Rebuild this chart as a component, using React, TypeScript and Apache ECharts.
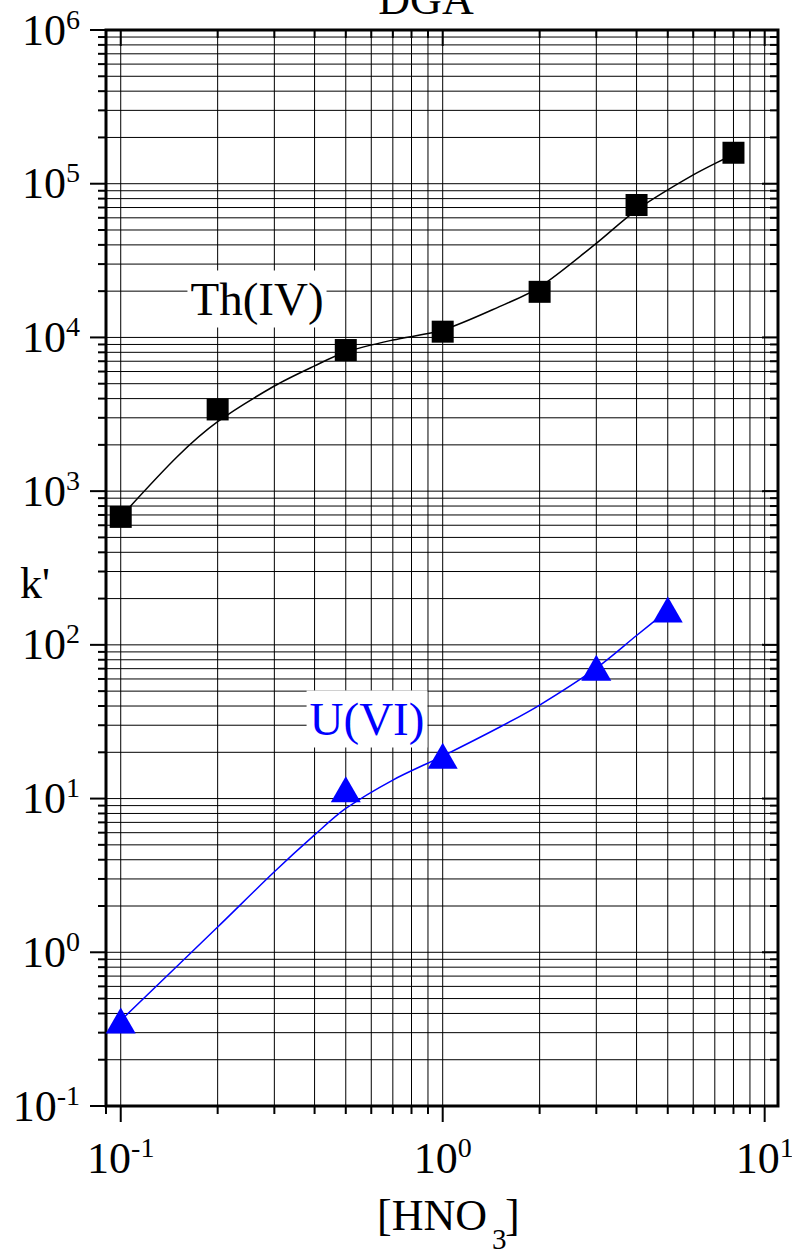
import React, { useEffect, useRef } from "react";
import * as echarts from "echarts";

// ---- Data ----
const thX = [0.1, 0.2, 0.5, 1, 2, 4, 8];
const thK = [680, 3400, 8280, 10900, 19800, 72700, 159000];

const uX = [0.1, 0.5, 1, 3, 5];
const uK = [0.36, 11.5, 19, 71, 170];

// fitted curves
const thFitX = [0.1, 0.15, 0.2, 0.3, 0.4, 0.5, 0.7, 1, 1.5, 2, 3, 4, 6, 8];
const thFitK = [680, 1680, 2830, 4830, 6530, 8030, 9620, 11170, 15850, 21280, 40950, 67400, 114000, 155000];

const uFitX = [0.1, 0.2, 0.3, 0.4, 0.5, 0.7, 1, 1.5, 2, 3, 4, 5];
const uFitK = [0.36, 1.46, 3.34, 5.8, 8.62, 13.2, 18.9, 29.1, 40.6, 70.6, 115, 168];

// axes
const xMin = 0.09;
const xMax = 11;
const yMin = 0.1;
const yMax = 1e6;
const xDecades = [-2, -1, 0, 1];
const yDecades = [-1, 0, 1, 2, 3, 4, 5];
const mantissas = [1, 2, 3, 4, 5, 6, 7, 8, 9];

const title = "DGA";
const yName = "k'";
const thLabel = "Th(IV)";
const uLabel = "U(VI)";

const FONT = "Liberation Serif";

const pairs = (xs: number[], ys: number[]) => xs.map((x, i) => [x, ys[i]]);

const powLabel = (v: number) => {
  const l = Math.log10(v);
  const e = Math.round(l);
  if (Math.abs(l - e) > 1e-6) return "";
  return `{b|10}{s|${e}}`;
};

const richLabel = {
  b: { fontFamily: FONT, fontSize: 44, lineHeight: 50, color: "#000", verticalAlign: "middle" },
  s: { fontFamily: FONT, fontSize: 28, lineHeight: 26, color: "#000", verticalAlign: "top" },
};

export default function App() {
  const ref = useRef<HTMLDivElement>(null);

  useEffect(() => {
    if (!ref.current) return;
    const chart = echarts.init(ref.current, null, { renderer: "svg" });

    const gridItem = (params: any, api: any) => {
      const cs = params.coordSys;
      const left = cs.x;
      const right = cs.x + cs.width;
      const top = cs.y;
      const bottom = cs.y + cs.height;
      const children: any[] = [];
      const gl = { stroke: "#000", lineWidth: 1 };
      const tk = { stroke: "#000", lineWidth: 2 };
      for (const e of xDecades) {
        for (const m of mantissas) {
          const v = m * Math.pow(10, e);
          if (v < xMin * 0.9999 || v > xMax * 1.0001) continue;
          const px = api.coord([v, 1])[0];
          const len = m === 1 ? 16 : 8;
          children.push({ type: "line", shape: { x1: px, y1: top, x2: px, y2: bottom }, style: gl });
          children.push({ type: "line", shape: { x1: px, y1: bottom, x2: px, y2: bottom + len }, style: tk });
          children.push({ type: "line", shape: { x1: px, y1: top, x2: px, y2: top + len }, style: tk });
        }
      }
      for (const e of yDecades) {
        for (const m of mantissas) {
          const v = m * Math.pow(10, e);
          if (v < yMin * 0.9999 || v > yMax * 1.0001) continue;
          const py = api.coord([1, v])[1];
          const len = m === 1 ? 16 : 8;
          children.push({ type: "line", shape: { x1: left, y1: py, x2: right, y2: py }, style: gl });
          children.push({ type: "line", shape: { x1: left - len, y1: py, x2: left, y2: py }, style: tk });
          children.push({ type: "line", shape: { x1: right - len, y1: py, x2: right, y2: py }, style: tk });
        }
      }
      const pyTop = api.coord([1, yMax])[1];
      children.push({ type: "line", shape: { x1: left - 16, y1: pyTop, x2: left, y2: pyTop }, style: tk });
      children.push({ type: "line", shape: { x1: right - 16, y1: pyTop, x2: right, y2: pyTop }, style: tk });
      return { type: "group", children };
    };

    const boxText = (text: string, x: number, y: number, color: string) => ({
      type: "text",
      x,
      y,
      z: 100,
      style: {
        text,
        fontFamily: FONT,
        fontSize: 47,
        lineHeight: 47,
        fill: color,
        align: "center",
        verticalAlign: "middle",
        backgroundColor: "#fff",
        padding: [5, 3, 5, 3],
      },
    });

    chart.setOption({
      animation: false,
      backgroundColor: "#fff",
      grid: {
        left: 106,
        right: 14,
        top: 30,
        bottom: 146,
        show: true,
        borderColor: "#000",
        borderWidth: 3,
        backgroundColor: "transparent",
        containLabel: false,
        outerBoundsMode: "none",
      },
      xAxis: {
        type: "log",
        logBase: 10,
        min: xMin,
        max: xMax,
        axisLine: { show: false },
        axisTick: { show: false },
        splitLine: { show: false },
        axisLabel: {
          margin: 27,
          formatter: powLabel,
          rich: richLabel,
          showMinLabel: true,
          showMaxLabel: true,
        },
      },
      yAxis: {
        type: "log",
        logBase: 10,
        min: yMin,
        max: yMax,
        axisLine: { show: false },
        axisTick: { show: false },
        splitLine: { show: false },
        axisLabel: {
          margin: 26,
          formatter: powLabel,
          rich: richLabel,
          showMinLabel: true,
          showMaxLabel: true,
        },
      },
      series: [
        {
          type: "custom",
          name: "grid",
          renderItem: gridItem,
          data: [[1, 1]],
          clip: false,
          silent: true,
          z: 1,
        },
        {
          type: "line",
          name: "Th fit",
          data: pairs(thFitX, thFitK),
          smooth: 0.3,
          showSymbol: false,
          symbol: "none",
          lineStyle: { color: "#000", width: 1.5 },
          z: 3,
        },
        {
          type: "line",
          name: "U fit",
          data: pairs(uFitX, uFitK),
          smooth: 0.3,
          showSymbol: false,
          symbol: "none",
          lineStyle: { color: "#0000ff", width: 1.5 },
          z: 3,
        },
        {
          type: "scatter",
          name: "Th(IV)",
          data: pairs(thX, thK),
          symbol: "rect",
          symbolSize: 22,
          itemStyle: { color: "#000", opacity: 1 },
          z: 4,
        },
        {
          type: "scatter",
          name: "U(VI)",
          data: pairs(uX, uK),
          symbol: "triangle",
          symbolSize: [30, 26],
          itemStyle: { color: "#0000ff", opacity: 1 },
          z: 4,
        },
      ],
      graphic: [
        {
          type: "text",
          x: 426,
          y: -1,
          z: 100,
          style: { text: title, fontFamily: FONT, fontSize: 44, fill: "#000", align: "center", verticalAlign: "middle" },
        },
        {
          type: "text",
          x: 35,
          y: 583,
          z: 100,
          style: { text: yName, fontFamily: FONT, fontSize: 44, fill: "#000", align: "center", verticalAlign: "middle" },
        },
        {
          type: "text",
          x: 487,
          y: 1215,
          z: 100,
          style: { text: "[HNO", fontFamily: FONT, fontSize: 44, fill: "#000", align: "right", verticalAlign: "middle" },
        },
        {
          type: "text",
          x: 492,
          y: 1239,
          z: 100,
          style: { text: "3", fontFamily: FONT, fontSize: 29, fill: "#000", align: "left", verticalAlign: "middle" },
        },
        {
          type: "text",
          x: 505,
          y: 1215,
          z: 100,
          style: { text: "]", fontFamily: FONT, fontSize: 44, fill: "#000", align: "left", verticalAlign: "middle" },
        },
        boxText(thLabel, 257, 299, "#000"),
        boxText(uLabel, 367, 719, "#0000ff"),
      ],
    });

    return () => chart.dispose();
  }, []);

  return (
    <div
      ref={ref}
      style={{ position: "absolute", left: 0, top: 0, width: 792, height: 1252 }}
    />
  );
}
